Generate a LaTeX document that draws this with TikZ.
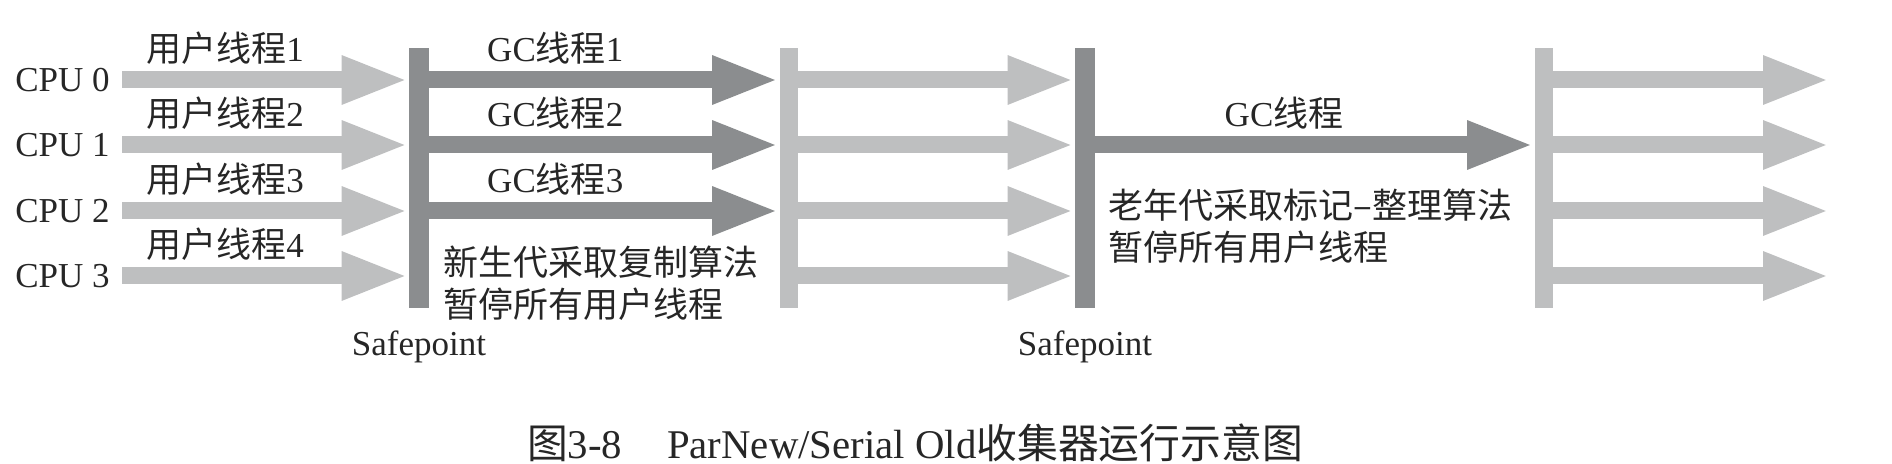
\documentclass[tikz,border=0pt]{standalone}
\usepackage{fontspec}
\setmainfont{Liberation Serif}
\newfontfamily\cjk{Noto Sans CJK SC}
\newcommand{\zh}[1]{{\cjk #1}}
\usetikzlibrary{positioning,arrows.meta}
\definecolor{barlight}{RGB}{190,191,192}
\definecolor{bardark}{RGB}{139,141,143}

\begin{document}
\begin{tikzpicture}[x=0.5pt, y=-0.5pt,
  every node/.style={font=\fontsize{17.5}{21}\selectfont, text=black!85},
  cpu/.style={anchor=east, inner xsep=6pt},
  bar/.style={rectangle, minimum height=130pt, inner sep=0pt},
  darkbar/.style={bar, fill=bardark, minimum width=10pt},
  lightbar/.style={bar, fill=barlight, minimum width=9pt},
  thread/.style={line width=8.5pt, -{Triangle[length=33.5pt, width=22pt]}},
  user/.style={thread, draw=barlight},
  gc/.style={thread, draw=bardark},
  lbl/.style={pos=.36, yshift=16pt},
  note/.style={anchor=west, align=left, inner sep=0pt, font=\fontsize{17.5}{21}\selectfont\cjk}]
  \useasboundingbox (0,0) rectangle (1892,464);
  \node[cpu] (cpu0) at (122,80) {CPU 0};
  \node[cpu] (cpu1) at (122,145) {CPU 1};
  \node[cpu] (cpu2) at (122,211) {CPU 2};
  \node[cpu] (cpu3) at (122,276) {CPU 3};
  \node[darkbar] (bar1) at (419,178) {};
  \node[lightbar] (bar2) at (788.5,178) {};
  \node[darkbar] (bar3) at (1085,178) {};
  \node[lightbar] (bar4) at (1543.5,178) {};
  \coordinate (end0) at (1830,80);
  \coordinate (end1) at (1830,145);
  \coordinate (end2) at (1830,211);
  \coordinate (end3) at (1830,276);
  \node[below=7.5pt of bar1] (sp1) {Safepoint};
  \node[below=7.5pt of bar3] (sp2) {Safepoint};
  \node[note] (young) at (443,283) {新生代采取复制算法\\暂停所有用户线程};
  \node[note] (old) at (1108,226) {老年代采取标记–整理算法\\暂停所有用户线程};
  \path
    (cpu0.east) edge[user] node[lbl] {\zh{用户线程}1} (cpu0.east -| bar1.west)
    (cpu1.east) edge[user] node[lbl] {\zh{用户线程}2} (cpu1.east -| bar1.west)
    (cpu2.east) edge[user] node[lbl] {\zh{用户线程}3} (cpu2.east -| bar1.west)
    (cpu3.east) edge[user] node[lbl] {\zh{用户线程}4} (cpu3.east -| bar1.west)
    (bar1.east |- cpu0.east) edge[gc] node[lbl] {GC\zh{线程}1} (bar2.west |- cpu0.east)
    (bar1.east |- cpu1.east) edge[gc] node[lbl] {GC\zh{线程}2} (bar2.west |- cpu1.east)
    (bar1.east |- cpu2.east) edge[gc] node[lbl] {GC\zh{线程}3} (bar2.west |- cpu2.east)
    (bar2.east |- cpu0.east) edge[user] (bar3.west |- cpu0.east)
    (bar2.east |- cpu1.east) edge[user] (bar3.west |- cpu1.east)
    (bar2.east |- cpu2.east) edge[user] (bar3.west |- cpu2.east)
    (bar2.east |- cpu3.east) edge[user] (bar3.west |- cpu3.east)
    (bar3.east |- cpu1.east) edge[gc] node[lbl, pos=.43] {GC\zh{线程}} (bar4.west |- cpu1.east)
    (bar4.east |- cpu0.east) edge[user] (end0)
    (bar4.east |- cpu1.east) edge[user] (end1)
    (bar4.east |- cpu2.east) edge[user] (end2)
    (bar4.east |- cpu3.east) edge[user] (end3);
  \node[font=\fontsize{20.4}{24}\selectfont] (caption) at (915,443)
    {\zh{图}3-8\hspace{1.1em}ParNew/Serial Old\zh{收集器运行示意图}};
\end{tikzpicture}
\end{document}
